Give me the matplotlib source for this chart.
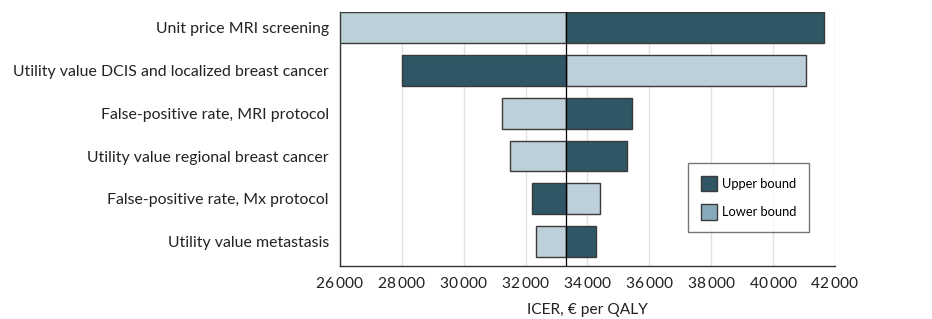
import matplotlib

matplotlib.use("Agg")
import matplotlib.pyplot as plt
from matplotlib.patches import Patch
from matplotlib.ticker import FuncFormatter

plt.rcParams["font.family"] = ["Lato", "DejaVu Sans"]

BASE = 33300
parameters = [
    "Unit price MRI screening",
    "Utility value DCIS and localized breast cancer",
    "False-positive rate, MRI protocol",
    "Utility value regional breast cancer",
    "False-positive rate, Mx protocol",
    "Utility value metastasis",
]
upper_bound = [41650, 28000, 35450, 35290, 32200, 34280]
lower_bound = [26000, 41050, 31230, 31500, 34390, 32350]
x_ticks = [26000, 28000, 30000, 32000, 34000, 36000, 38000, 40000, 42000]

DARK = "#2E5664"
LIGHT = "#BDD0D9"
LEGEND_LIGHT = "#87AABA"
EDGE = "#3A3A3A"
TEXT = "#222222"

fig = plt.figure(figsize=(9.32, 3.19), dpi=100)
ax = fig.add_axes([0.3648, 0.167, 0.5311, 0.7954])

rows = list(range(len(parameters)))
for i in rows:
    for val, col in ((lower_bound[i], LIGHT), (upper_bound[i], DARK)):
        left = min(val, BASE)
        ax.barh(i, abs(val - BASE), left=left, height=0.72, color=col,
                edgecolor=EDGE, linewidth=1.0, zorder=3)

ax.axvline(BASE, color="black", linewidth=0.9, zorder=4)

ax.set_xlim(26000, 42000)
ax.set_ylim(5.56, -0.36)
ax.set_yticks(rows)
ax.set_yticklabels(parameters, fontsize=11.4, color=TEXT)
ax.set_xticks(x_ticks)
ax.xaxis.set_major_formatter(FuncFormatter(lambda v, p: f"{int(v):,}".replace(",", "\u2009")))
ax.tick_params(axis="both", length=0, colors=TEXT)
ax.tick_params(axis="x", pad=8, labelsize=11.2)
ax.tick_params(axis="y", pad=8)
ax.set_xlabel("ICER, € per QALY", fontsize=11.2, color=TEXT, labelpad=9)

ax.grid(axis="x", color="#E2E2E2", linewidth=1.0, zorder=0)
ax.set_axisbelow(True)
for side in ("top", "right"):
    ax.spines[side].set_visible(False)
for side in ("left", "bottom"):
    ax.spines[side].set_color("#333333")
    ax.spines[side].set_linewidth(1.0)

handles = [
    Patch(facecolor=DARK, edgecolor=EDGE, label="Upper bound"),
    Patch(facecolor=LEGEND_LIGHT, edgecolor=EDGE, label="Lower bound"),
]
leg = fig.legend(handles=handles, loc="upper right", bbox_to_anchor=(809 / 932, 1 - 163 / 319),
                 fontsize=9.3, frameon=True, fancybox=False, edgecolor="#555555",
                 handlelength=1.25, handleheight=1.45, borderpad=1.0, labelspacing=1.0,
                 handletextpad=0.35, borderaxespad=0)
leg.get_frame().set_linewidth(1.0)

fig.savefig("out.png", dpi=100)
